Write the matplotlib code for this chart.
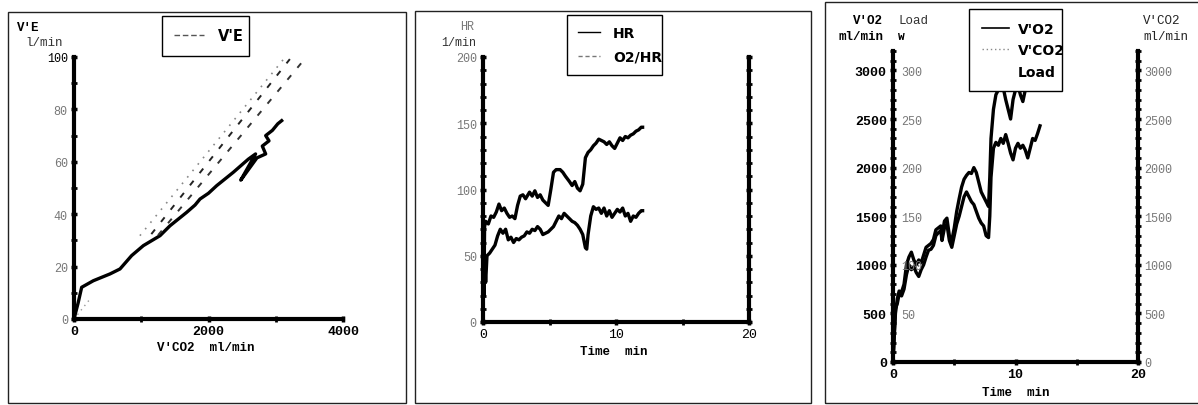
import matplotlib
matplotlib.use("Agg")
import matplotlib.pyplot as plt
from matplotlib.lines import Line2D
from matplotlib.patches import Rectangle

# ---------------- data ----------------
# Panel 1: V'E vs V'CO2
ve_vco2 = [0, 60, 114, 287, 535, 684, 857, 1031, 1279, 1428, 1675, 1800, 1874, 2000,
           2122, 2369, 2592, 2700, 2480, 2720, 2850, 2800, 2900, 2850, 2950, 3030, 3088]
ve_ve = [0, 6, 12.1, 14.6, 17.2, 19.1, 24.2, 28.0, 31.8, 35.6, 40.7, 43.5, 45.8, 48.0,
         50.9, 56.0, 61.0, 63.0, 53.0, 61.5, 63.0, 66.0, 68.0, 70.0, 72.0, 74.5, 75.7]
ref_dot_x = [0, 250]
ref_dot_y = [0, 8]
ref1_x = [980, 3130]
ref1_y = [31.8, 99.6]
ref2_x = [1150, 3210]
ref2_y = [32.4, 99.2]
ref3_x = [1250, 3400]
ref3_y = [32.0, 98.3]

# Panel 2: HR and O2/HR vs time
hr_t = [0.0, 0.05, 0.08, 0.12, 0.2, 0.4, 0.6, 0.8, 1.0, 1.2, 1.4, 1.6, 1.8, 2.0, 2.2, 2.4,
        2.6, 2.8, 3.0, 3.2, 3.5, 3.7, 3.9, 4.1, 4.3, 4.5, 4.7, 4.9, 5.1, 5.3, 5.5, 5.8,
        6.0, 6.2, 6.5, 6.7, 6.9, 7.1, 7.3, 7.5, 7.7, 7.9, 8.1, 8.3, 8.5, 8.7, 8.9, 9.1,
        9.3, 9.5, 9.7, 9.9, 10.1, 10.3, 10.5, 10.7, 10.9, 11.1, 11.3, 11.5, 11.7, 11.9, 12.0]
hr_v = [35, 60, 30, 72, 76, 74, 80, 79, 83, 89, 84, 86, 82, 79, 80, 78,
        88, 95, 96, 93, 98, 95, 99, 94, 96, 92, 90, 88, 100, 113, 115, 115,
        113, 110, 106, 103, 106, 101, 99, 104, 124, 128, 130, 133, 135, 138, 137, 136,
        134, 136, 133, 131, 135, 139, 137, 140, 139, 141, 142, 144, 145, 147, 147]
o2hr_t = [0.0, 0.05, 0.08, 0.12, 0.2, 0.3, 0.5, 0.7, 0.9, 1.1, 1.3, 1.5, 1.7, 1.9, 2.1,
          2.3, 2.5, 2.7, 2.9, 3.1, 3.3, 3.5, 3.7, 3.9, 4.1, 4.3, 4.5, 4.7, 4.9, 5.1,
          5.3, 5.5, 5.7, 5.9, 6.1, 6.3, 6.5, 6.7, 6.9, 7.1, 7.3, 7.5, 7.7, 7.8, 7.9,
          8.1, 8.3, 8.5, 8.7, 8.9, 9.1, 9.3, 9.5, 9.7, 9.9, 10.1, 10.3, 10.5, 10.7,
          10.9, 11.1, 11.3, 11.5, 11.7, 11.9, 12.0]
o2hr_v = [15, 45, 20, 48, 30, 50, 52, 55, 58, 65, 70, 67, 70, 62, 64,
          60, 63, 62, 64, 65, 68, 67, 70, 69, 72, 70, 66, 67, 68, 70,
          72, 76, 80, 78, 82, 80, 78, 76, 75, 73, 70, 66, 56, 55, 66,
          80, 87, 85, 86, 82, 86, 80, 84, 79, 82, 85, 83, 86, 80,
          82, 76, 80, 79, 82, 84, 84]

# Panel 3: V'O2 and V'CO2 vs time
gas_t = [0, 0.1, 0.2, 0.35, 0.5, 0.7, 0.9, 1.1, 1.3, 1.5, 1.7, 1.9, 2.1, 2.3, 2.5, 2.7,
         2.9, 3.1, 3.3, 3.5, 3.7, 3.9, 4.0, 4.2, 4.4, 4.6, 4.8, 5.0, 5.2, 5.4, 5.6, 5.8,
         6.0, 6.2, 6.4, 6.6, 6.8, 7.0, 7.2, 7.4, 7.6, 7.8, 7.9, 8.0, 8.2, 8.4, 8.6, 8.8,
         9.0, 9.2, 9.4, 9.6, 9.8, 10.0, 10.2, 10.4, 10.6, 10.8, 11.0, 11.2, 11.4, 11.6,
         11.8, 12.0]
vo2 = [0, 300, 550, 600, 700, 680, 750, 900, 1000, 950, 980, 920, 880, 950, 1000, 1080,
       1150, 1160, 1200, 1300, 1330, 1350, 1250, 1380, 1420, 1250, 1180, 1300, 1420, 1500,
       1600, 1700, 1750, 1700, 1650, 1620, 1550, 1480, 1430, 1400, 1300, 1280, 1500, 1900,
       2200, 2260, 2230, 2300, 2250, 2340, 2250, 2150, 2080, 2200, 2250, 2200, 2230, 2180,
       2100, 2200, 2300, 2280, 2350, 2430]
vco2_t = [0, 0.1, 0.2, 0.35, 0.5, 0.7, 0.9, 1.1, 1.3, 1.5, 1.7, 1.9, 2.1, 2.3, 2.5, 2.7,
          2.9, 3.1, 3.3, 3.5, 3.7, 3.9, 4.0, 4.2, 4.4, 4.6, 4.8, 5.0, 5.2, 5.4, 5.6, 5.8,
          6.0, 6.2, 6.4, 6.6, 6.8, 7.0, 7.2, 7.4, 7.6, 7.8, 7.9, 8.0, 8.2, 8.4, 8.6, 8.8,
          9.0, 9.2, 9.4, 9.6, 9.8, 10.0, 10.2, 10.4, 10.6, 10.8, 11.0, 11.2, 11.5]
vco2 = [0, 250, 500, 650, 730, 720, 800, 1000, 1080, 1130, 1050, 1000, 1050, 1020, 1100,
        1180, 1200, 1220, 1260, 1360, 1380, 1400, 1300, 1450, 1480, 1300, 1250, 1380, 1550,
        1680, 1800, 1880, 1920, 1950, 1940, 2000, 1950, 1850, 1750, 1700, 1650, 1600, 1900,
        2300, 2600, 2750, 2800, 2850, 2820, 2700, 2600, 2500, 2700, 2800, 2850, 2750, 2680,
        2800, 2900, 2950, 3000]

# tick labels
p1_xticks = [0, 2000, 4000]
p1_yticks = [0, 20, 40, 60, 80, 100]
p2_xticks = [0, 10, 20]
p2_yticks = [0, 50, 100, 150, 200]
p3_yticks = [0, 500, 1000, 1500, 2000, 2500, 3000]
p3_load_ticks = [50, 100, 150, 200, 250, 300]

# ---------------- figure ----------------
W, H = 1198, 406
fig = plt.figure(figsize=(W / 100, H / 100), dpi=100)
fig.patch.set_facecolor("white")


def fx(px):
    return px / W


def fy(py):
    return 1 - py / H


def axes_px(x0, y0, x1, y1):
    return fig.add_axes([fx(x0), fy(y1), fx(x1) - fx(x0), fy(y0) - fy(y1)])


MONO = "Liberation Mono"
SANS = "DejaVu Sans"
LW = 2.4
FAINT = "#777777"

# frames
for (x0, y0, x1, y1) in [(8, 13, 406, 404), (415, 12, 811, 404), (825, 3, 1205, 404)]:
    fig.patches.append(Rectangle((fx(x0), fy(y1)), fx(x1) - fx(x0), fy(y0) - fy(y1),
                                 transform=fig.transFigure, fill=False, lw=1.0,
                                 ec="#222222", zorder=0))


def style_axes(ax, sides):
    for s in ["top", "right", "left", "bottom"]:
        ax.spines[s].set_visible(s in sides)
        ax.spines[s].set_linewidth(3)
    ax.tick_params(which="major", direction="inout", length=5, width=2.5, pad=2,
                   labelsize=8.5)
    ax.tick_params(which="minor", direction="inout", length=4, width=2)
    ax.set_facecolor("none")
    for lab in ax.get_xticklabels() + ax.get_yticklabels():
        lab.set_fontfamily(MONO)


# ---------- Panel 1 ----------
ax1 = axes_px(74, 58, 343, 320)
ax1.plot(ve_vco2, ve_ve, color="black", lw=LW, solid_joinstyle="round")
ax1.plot(ref_dot_x, ref_dot_y, color="#999999", lw=1, ls=(0, (1, 3)))
ax1.plot(ref1_x, ref1_y, color="#888888", lw=1.2, ls=(0, (1, 4)))
ax1.plot(ref2_x, ref2_y, color="#222222", lw=1.4, ls=(0, (3, 5)))
ax1.plot(ref3_x, ref3_y, color="#333333", lw=1.4, ls=(0, (3, 5)))
ax1.set_xlim(0, 4000)
ax1.set_ylim(0, 100)
ax1.set_xticks(p1_xticks)
ax1.set_yticks(p1_yticks)
ax1.set_xticks([1000, 3000], minor=True)
ax1.set_yticks([10, 30, 50, 70, 90], minor=True)
style_axes(ax1, ["left", "bottom"])
for lab in ax1.get_xticklabels():
    lab.set_fontweight("bold")
    lab.set_fontsize(9.5)
for lab in ax1.get_yticklabels():
    lab.set_color(FAINT)
ax1.get_yticklabels()[-1].set_color("black")
ax1.legend(handles=[Line2D([], [], color="#555555", lw=1, ls=(0, (4, 2)))],
           labels=["V'E"], loc="upper left",
           bbox_to_anchor=(fx(162), fy(55), fx(249) - fx(162), fy(17) - fy(55)),
           bbox_transform=fig.transFigure, mode="expand", borderaxespad=0,
           fancybox=False, edgecolor="black", framealpha=1,
           prop={"family": SANS, "weight": "bold", "size": 10.5},
           handlelength=2.0, handletextpad=1.0, borderpad=0.85)
fig.text(fx(17), fy(28), "V'E", family=MONO, weight="bold", size=9, va="center")
fig.text(fx(25), fy(43), "l/min", family=MONO, size=9, va="center", color="#333333")
fig.text(fx(206), fy(348), "V'CO2  ml/min", family=MONO, weight="bold", size=9,
         ha="center", va="center")

# ---------- Panel 2 ----------
ax2 = axes_px(483, 58, 749, 323)
ax2.plot(hr_t, hr_v, color="black", lw=LW)
ax2.plot(o2hr_t, o2hr_v, color="black", lw=LW)
ax2.set_xlim(0, 20)
ax2.set_ylim(0, 200)
ax2.set_xticks(p2_xticks)
ax2.set_yticks(p2_yticks)
ax2.set_xticks([5, 15], minor=True)
ax2.set_yticks(list(range(10, 200, 10)), minor=True)
style_axes(ax2, ["left", "bottom"])
for lab in ax2.get_xticklabels():
    lab.set_fontsize(9.5)
for lab in ax2.get_yticklabels():
    lab.set_color(FAINT)
ax2.get_yticklabels()[0].set_visible(False)
ax2r = ax2.twinx()
ax2r.set_ylim(0, 200)
ax2r.set_yticks(p2_yticks)
ax2r.set_yticklabels([])
ax2r.set_yticks(list(range(10, 200, 10)), minor=True)
style_axes(ax2r, ["right"])
ax2r.legend(handles=[Line2D([], [], color="black", lw=1),
                     Line2D([], [], color="#777777", lw=1, ls=(0, (3, 2)))],
            labels=["HR", "O2/HR"], loc="upper left",
            bbox_to_anchor=(fx(567), fy(75), fx(662) - fx(567), fy(16) - fy(75)),
            bbox_transform=fig.transFigure, mode="expand", borderaxespad=0,
            fancybox=False, edgecolor="black", framealpha=1,
            prop={"family": SANS, "weight": "bold", "size": 10},
            handlelength=1.6, handletextpad=0.9, borderpad=0.8, labelspacing=0.7)
fig.text(fx(474), fy(27), "HR", family=MONO, size=8.5, va="center", ha="right",
         color=FAINT)
fig.text(fx(476), fy(43), "1/min", family=MONO, size=8.5, va="center", ha="right",
         color="#333333")
fig.text(fx(614), fy(352), "Time  min", family=MONO, weight="bold", size=9,
         ha="center", va="center")

# ---------- Panel 3 ----------
ax3 = axes_px(893, 52, 1138, 363)
ax3.plot(vco2_t, vco2, color="black", lw=LW, zorder=3)
ax3.plot(gas_t, vo2, color="black", lw=LW, zorder=3)
ax3.set_xlim(0, 20)
ax3.set_ylim(0, 3200)
ax3.set_xticks(p2_xticks)
ax3.set_yticks(p3_yticks)
ax3.set_xticks([5, 15], minor=True)
ax3.set_yticks(list(range(100, 3201, 100)), minor=True)
style_axes(ax3, ["left", "bottom"])
for lab in ax3.get_xticklabels() + ax3.get_yticklabels():
    lab.set_fontweight("bold")
    lab.set_fontsize(9.5)
# load axis (labels just right of the left spine)
ax3l = ax3.twinx()
ax3l.set_ylim(0, 320)
ax3l.spines["right"].set_position(("axes", 0))
ax3l.set_yticks(p3_load_ticks)
style_axes(ax3l, [])
ax3l.tick_params(axis="y", which="major", length=0, pad=6, labelcolor=FAINT)
for lab in ax3l.get_yticklabels():
    lab.set_fontfamily(MONO)
# right V'CO2 axis
ax3r = ax3.twinx()
ax3r.set_ylim(0, 3200)
ax3r.set_yticks(p3_yticks)
ax3r.set_yticks(list(range(100, 3201, 100)), minor=True)
style_axes(ax3r, ["right"])
ax3r.tick_params(axis="y", labelcolor=FAINT)
for lab in ax3r.get_yticklabels():
    lab.set_fontfamily(MONO)
leg3 = ax3r.legend(handles=[Line2D([], [], color="black", lw=1.2),
                            Line2D([], [], color="#888888", lw=1, ls=(0, (1, 2))),
                            Line2D([], [], color="white", lw=0)],
                   labels=["V'O2", "V'CO2", "Load"], loc="upper left",
                   bbox_to_anchor=(fx(969), fy(89), fx(1062) - fx(969), fy(10) - fy(89)),
                   bbox_transform=fig.transFigure, mode="expand", borderaxespad=0,
                   fancybox=False, edgecolor="black", framealpha=1,
                   prop={"family": SANS, "weight": "bold", "size": 10},
                   handlelength=2.0, handletextpad=0.6, borderpad=0.9,
                   labelspacing=0.55)
leg3.set_zorder(10)
fig.text(fx(883), fy(21), "V'O2", family=MONO, weight="bold", size=9, ha="right",
         va="center")
fig.text(fx(884), fy(37), "ml/min", family=MONO, weight="bold", size=9, ha="right",
         va="center")
fig.text(fx(898), fy(21), "Load", family=MONO, size=9, va="center", color="#333333")
fig.text(fx(898), fy(37), "W", family=MONO, weight="bold", size=8, va="center")
fig.text(fx(1143), fy(21), "V'CO2", family=MONO, size=9, va="center", color="#222222")
fig.text(fx(1143), fy(37), "ml/min", family=MONO, size=9, va="center", color="#222222")
fig.text(fx(1016), fy(393), "Time  min", family=MONO, weight="bold", size=9,
         ha="center", va="center")

fig.savefig("out.png", dpi=100, facecolor="white")
